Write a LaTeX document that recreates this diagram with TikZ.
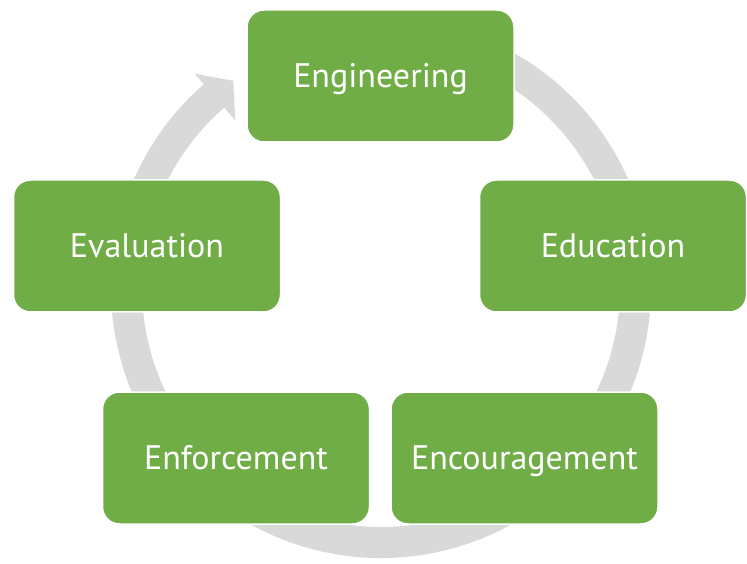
\documentclass[tikz,border=0pt]{standalone}
\usepackage{fontspec}
\setmainfont{PT Sans}
\definecolor{boxgreen}{HTML}{70AD47}
\definecolor{ringgray}{HTML}{D9D9D9}
\tikzset{
  cyclebox/.style={rectangle, rounded corners=17pt, minimum width=267pt,
    minimum height=132pt, fill=boxgreen, draw=white, line width=1.5pt,
    text=white, font=\fontsize{34}{38}\selectfont, text height=23.5pt,
    text depth=0pt, inner sep=0pt}
}
\begin{document}
\begin{tikzpicture}
\useasboundingbox (0pt,0pt) rectangle (747pt,563pt);
\fill[white] (0pt,0pt) rectangle (747pt,563pt);
\begin{scope}[shift={(381pt,275pt)}]
\fill[ringgray] (470:270pt) arc[start angle=470, end angle=131, radius=270pt]
  -- (131:284pt) -- (125.5:254.5pt) -- (131:222pt) -- (131:239pt)
  arc[start angle=131, end angle=470, radius=239pt] -- cycle;
\end{scope}
\node[cyclebox] (eng) at (380.5pt,487pt) {Engineering};
\node[cyclebox] (edu) at (613pt,317pt) {Education};
\node[cyclebox] (enc) at (524.5pt,105pt) {Encouragement};
\node[cyclebox] (enf) at (236pt,105pt) {Enforcement};
\node[cyclebox] (eva) at (147pt,317pt) {Evaluation};
\end{tikzpicture}
\end{document}
